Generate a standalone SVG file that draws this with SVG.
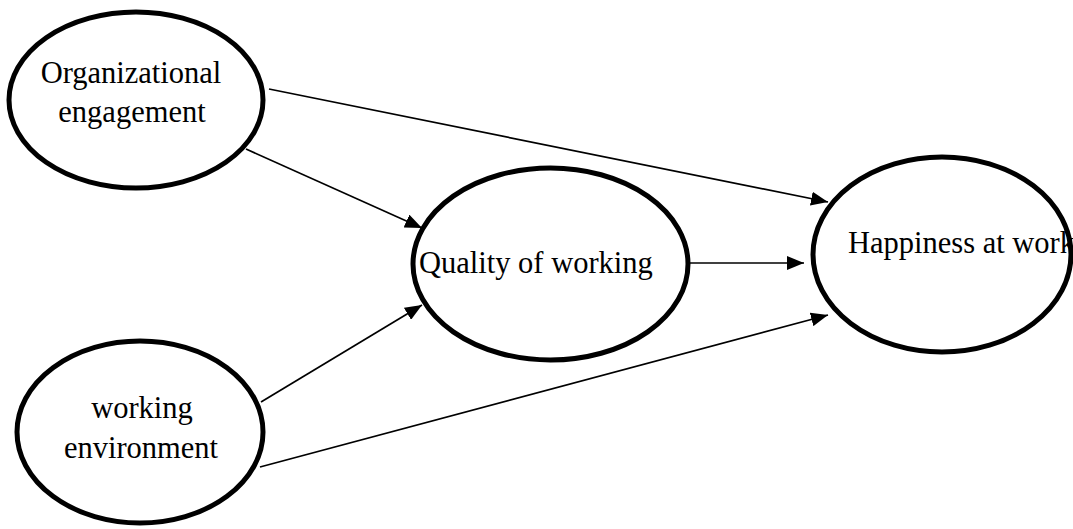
<svg xmlns="http://www.w3.org/2000/svg" width="1073" height="529" viewBox="0 0 1073 529">
<style>
.node ellipse{fill:#fff;stroke:#000;stroke-width:5}
.node text{font-family:"Liberation Serif","Times New Roman",serif;font-size:30.5px;fill:#000}
.conn line{stroke:#000;stroke-width:1.7}
</style>
<defs>
<marker id="arr" markerUnits="userSpaceOnUse" markerWidth="18" markerHeight="14" refX="17" refY="7" orient="auto">
<path d="M0,0 L17,7 L0,14 z" fill="#000"/>
</marker>
</defs>
<rect width="1073" height="529" fill="#fff"/>
<g id="org" class="node">
<ellipse cx="136" cy="100" rx="127" ry="88"/>
<text x="131" y="83" text-anchor="middle">Organizational</text>
<text x="132" y="122" text-anchor="middle">engagement</text>
</g>
<g id="env" class="node">
<ellipse cx="140" cy="432" rx="123" ry="91"/>
<text x="142" y="418" text-anchor="middle">working</text>
<text x="141" y="458" text-anchor="middle">environment</text>
</g>
<g id="quality" class="node">
<ellipse cx="550.5" cy="264" rx="137.5" ry="96"/>
<text x="419" y="273">Quality of working</text>
</g>
<g id="happy" class="node">
<ellipse cx="942" cy="254.5" rx="129" ry="97.5"/>
<text x="848" y="253">Happiness at work</text>
</g>
<g id="connectors" class="conn">
<line x1="269" y1="89" x2="828" y2="202" marker-end="url(#arr)"/>
<line x1="246" y1="149" x2="422" y2="228" marker-end="url(#arr)"/>
<line x1="261" y1="402" x2="422" y2="305" marker-end="url(#arr)"/>
<line x1="260" y1="467" x2="828" y2="315" marker-end="url(#arr)"/>
<line x1="690" y1="263" x2="804" y2="263" marker-end="url(#arr)"/>
</g>
</svg>
